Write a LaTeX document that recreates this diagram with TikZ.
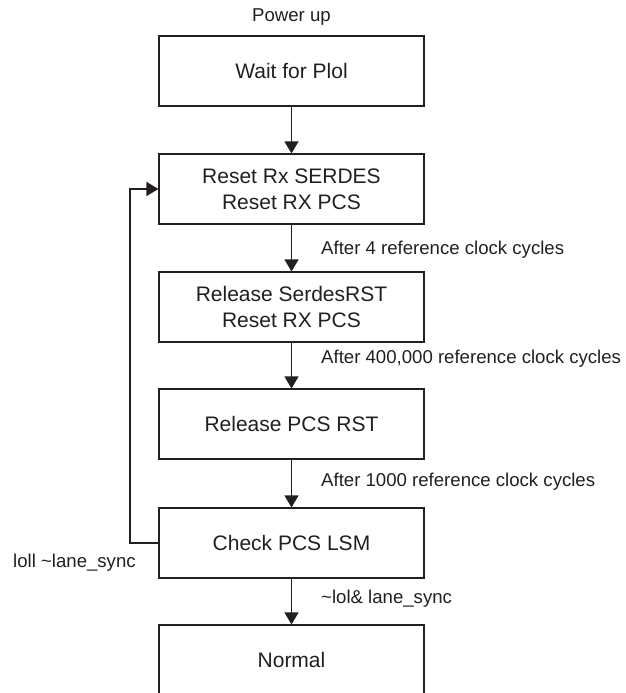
\documentclass[tikz,border=0pt]{standalone}
\usepackage{fontspec}
\setmainfont{Liberation Sans}
\usetikzlibrary{arrows.meta}
\definecolor{ink}{HTML}{231F20}
\begin{document}
\begin{tikzpicture}[x=1pt,y=-1pt,
  stbox/.style={draw=ink,line width=1.1pt,minimum width=265pt,minimum height=70pt,
    align=center,inner sep=0pt,text=ink,font=\fontsize{21}{26}\selectfont},
  lbl/.style={text=ink,inner sep=0pt,font=\fontsize{18.6}{22}\selectfont},
  conn/.style={draw=ink,line width=1.1pt,-{Triangle[width=14pt,length=12pt]}}]
\useasboundingbox (0,0) rectangle (625,693);
\node[lbl] (pu) at (291.5,17) {Power up};
\node[stbox] (b1) at (291.5,71) {Wait for Plol};
\node[stbox] (b2) at (291.5,189) {Reset Rx SERDES\\Reset RX PCS};
\node[stbox] (b3) at (291.5,307) {Release SerdesRST\\Reset RX PCS};
\node[stbox] (b4) at (291.5,424) {Release PCS RST};
\node[stbox] (b5) at (291.5,543) {Check PCS LSM};
\node[stbox] (b6) at (291.5,660) {Normal};
\node[lbl,anchor=west] (l1) at (321,250) {After 4 reference clock cycles};
\node[lbl,anchor=west] (l2) at (321,359) {After 400,000 reference clock cycles};
\node[lbl,anchor=west] (l3) at (321,482) {After 1000 reference clock cycles};
\node[lbl,anchor=west] (l4) at (321,599) {\textasciitilde lol\& lane\_sync};
\node[lbl,anchor=west] (l5) at (13,563) {loll \textasciitilde lane\_sync};
\coordinate (fa) at (130,543);
\coordinate (fb) at (130,189);
\draw[conn] (b1.south) -- (b2.north);
\draw[conn] (b2.south) -- (b3.north);
\draw[conn] (b3.south) -- (b4.north);
\draw[conn] (b4.south) -- (b5.north);
\draw[conn] (b5.south) -- (b6.north);
\draw[conn] (b5.west) -- (fa) -- (fb) -- (b2.west);
\end{tikzpicture}
\end{document}
